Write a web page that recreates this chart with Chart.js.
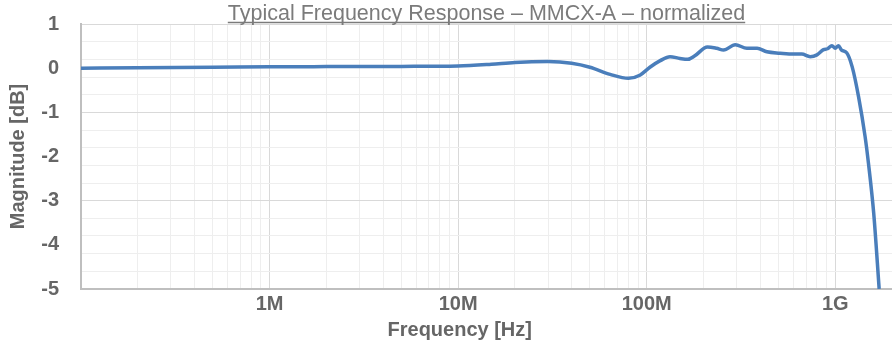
<!DOCTYPE html>
<html>
<head>
<meta charset="utf-8">
<script src="https://cdn.jsdelivr.net/npm/chart.js@4.4.1/dist/chart.umd.min.js"></script>
<style>
  html, body { margin: 0; padding: 0; background: #ffffff; }
  #wrap { width: 892px; height: 345px; position: relative; }
</style>
</head>
<body>
<div id="wrap"><canvas id="c" width="892" height="345"></canvas></div>
<script>
// ---- data ----
const chartTitle = 'Typical Frequency Response – MMCX-A – normalized';
const xAxisTitle = 'Frequency [Hz]';
const yAxisTitle = 'Magnitude [dB]';

const freqHz = [
  1e5, 2e5, 5e5, 1e6, 2e6, 5e6, 1e7, 1.5e7, 2e7, 3e7, 4e7, 5e7, 6.4e7, 8e7, 9.2e7,
  1.04e8, 1.18e8, 1.33e8, 1.5e8, 1.65e8, 1.8e8, 2.1e8, 2.35e8, 2.56e8, 2.95e8,
  3.4e8, 3.85e8, 4.34e8, 5.1e8, 6.0e8, 6.65e8, 7.36e8, 8.0e8, 8.67e8, 9.1e8,
  9.6e8, 1.0e9, 1.04e9, 1.08e9, 1.15e9, 1.23e9, 1.33e9, 1.44e9, 1.5e9, 1.6e9, 1.71e9
];
const magDb = [
  0.0, 0.01, 0.02, 0.03, 0.035, 0.04, 0.05, 0.09, 0.13, 0.15, 0.11, 0.02, -0.14, -0.23, -0.16,
  0.02, 0.17, 0.26, 0.22, 0.20, 0.28, 0.48, 0.45, 0.41, 0.53,
  0.45, 0.45, 0.37, 0.34, 0.32, 0.32, 0.26, 0.30, 0.42, 0.44,
  0.51, 0.45, 0.51, 0.41, 0.35, 0.03, -0.65, -1.55, -2.15, -3.29, -5.0
];

const xTickValues = [1e6, 1e7, 1e8, 1e9];
const xTickLabels = ['1M', '10M', '100M', '1G'];
const yTickValues = [1, 0, -1, -2, -3, -4, -5];
const yTickLabels = ['1', '0', '-1', '-2', '-3', '-4', '-5'];

// ---- axis settings ----
const X_MIN = 1e5, X_MAX = 2e9;
const Y_MIN = -5, Y_MAX = 1;
const Y_GRID_STEP = 0.4;
const Y_MAJOR_GRID = [1, -1, -3, -5];

const labelColor = '#666666';
const titleColor = '#7b7b7b';
const majorGrid = '#d9d9d9';
const minorGrid = '#eeeeee';
const axisLine = '#bfbfbf';
const lineColor = '#4a7ebb';
const FONT = "'Liberation Sans', Arial, sans-serif";

// grid positions
const xGrid = [];
for (let e = 5; e <= 9; e++) {
  for (let m = 1; m <= 9; m++) {
    const v = m * Math.pow(10, e);
    if (v >= X_MIN && v <= X_MAX) xGrid.push(v);
  }
}
const yGrid = [];
for (let i = 0; Y_MAX - i * Y_GRID_STEP >= Y_MIN - 1e-9; i++) {
  yGrid.push(Math.round((Y_MAX - i * Y_GRID_STEP) * 10) / 10);
}
const yAll = Array.from(new Set([...yGrid, ...yTickValues])).sort((a, b) => b - a);

const points = freqHz.map((f, i) => ({ x: f, y: magDb[i] }));

const isDecade = v => Math.abs(Math.log10(v) - Math.round(Math.log10(v))) < 1e-9;
const near = (a, b) => Math.abs(a - b) < 1e-6;

const titlePlugin = {
  id: 'customTitles',
  afterDraw(chart) {
    const ctx = chart.ctx;
    const ca = chart.chartArea;
    ctx.save();
    // chart title, underlined
    ctx.font = "21.5px " + FONT;
    ctx.fillStyle = titleColor;
    ctx.textAlign = 'center';
    ctx.textBaseline = 'alphabetic';
    const cx = (ca.left + ca.right) / 2;
    const ty = 20;
    ctx.fillText(chartTitle, cx, ty);
    const w = ctx.measureText(chartTitle).width;
    ctx.strokeStyle = titleColor;
    ctx.lineWidth = 1.3;
    ctx.beginPath();
    ctx.moveTo(cx - w / 2, ty + 2.5);
    ctx.lineTo(cx + w / 2, ty + 2.5);
    ctx.stroke();
    // x axis title
    ctx.font = "bold 20px " + FONT;
    ctx.fillStyle = labelColor;
    ctx.textBaseline = 'middle';
    ctx.fillText(xAxisTitle, ca.left + (ca.right - ca.left) * 0.467, 330);
    ctx.restore();
  }
};

new Chart(document.getElementById('c'), {
  type: 'line',
  data: {
    datasets: [{
      data: points,
      borderColor: lineColor,
      backgroundColor: lineColor,
      borderWidth: 3.5,
      pointRadius: 0,
      tension: 0.4,
      cubicInterpolationMode: 'monotone',
      fill: false
    }]
  },
  options: {
    responsive: false,
    animation: false,
    devicePixelRatio: 1,
    layout: { padding: { top: 24, right: 0, left: 0, bottom: 0 } },
    plugins: {
      legend: { display: false },
      title: { display: false },
      tooltip: { enabled: false }
    },
    scales: {
      x: {
        type: 'logarithmic',
        min: X_MIN,
        max: X_MAX,
        afterBuildTicks(scale) { scale.ticks = xGrid.map(v => ({ value: v })); },
        afterFit(scale) { scale.height = 56; scale.paddingLeft = 0; scale.paddingRight = 0; },
        ticks: {
          autoSkip: false,
          maxRotation: 0,
          minRotation: 0,
          padding: 3,
          color: labelColor,
          font: { family: FONT, size: 20, weight: 'bold' },
          callback(value) {
            const i = xTickValues.findIndex(t => Math.abs(t - value) / t < 1e-9);
            return i >= 0 ? xTickLabels[i] : '';
          }
        },
        grid: {
          drawTicks: false,
          lineWidth: 1,
          color(ctx) {
            const v = ctx.tick && ctx.tick.value;
            return v && isDecade(v) ? majorGrid : minorGrid;
          }
        },
        border: { display: true, color: axisLine, width: 2 },
        title: { display: false }
      },
      y: {
        type: 'linear',
        min: Y_MIN,
        max: Y_MAX,
        afterBuildTicks(scale) { scale.ticks = yAll.map(v => ({ value: v })); },
        afterFit(scale) { scale.width = 81; scale.paddingTop = 0; scale.paddingBottom = 0; },
        ticks: {
          autoSkip: false,
          padding: 22,
          color: labelColor,
          font: { family: FONT, size: 20, weight: 'bold' },
          callback(value) {
            const i = yTickValues.findIndex(t => near(t, value));
            return i >= 0 ? yTickLabels[i] : '';
          }
        },
        grid: {
          drawTicks: false,
          lineWidth: 1,
          color(ctx) {
            const v = ctx.tick ? ctx.tick.value : null;
            if (v === null) return minorGrid;
            if (!yGrid.some(g => near(g, v))) return 'rgba(0,0,0,0)';
            return Y_MAJOR_GRID.some(g => near(g, v)) ? majorGrid : minorGrid;
          }
        },
        border: { display: true, color: axisLine, width: 2 },
        title: {
          display: true,
          text: yAxisTitle,
          color: labelColor,
          font: { family: FONT, size: 20, weight: 'bold' },
          padding: { top: 6, bottom: 0 }
        }
      }
    }
  },
  plugins: [titlePlugin]
});
</script>
</body>
</html>
